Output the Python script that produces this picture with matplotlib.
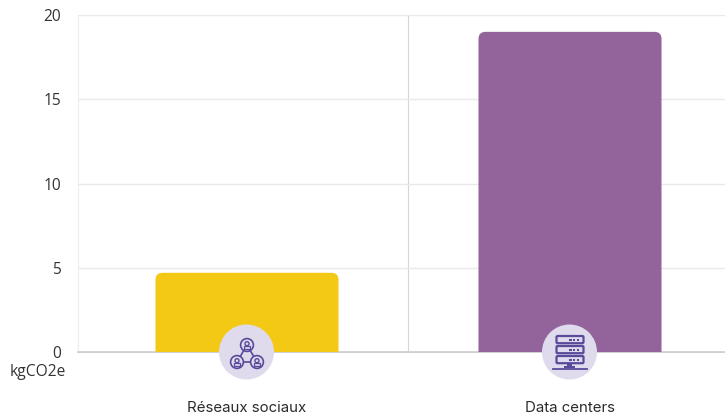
import matplotlib
matplotlib.use("Agg")
import matplotlib.pyplot as plt
from matplotlib.patches import PathPatch, Circle, Rectangle, FancyBboxPatch
from matplotlib.path import Path

categories = ["Réseaux sociaux", "Data centers"]
values = [4.7, 19.0]
bar_colors = ["#F4C916", "#93649B"]
yticks = [0, 5, 10, 15, 20]
unit_label = "kgCO2e"

W, H = 725, 416
L, R, T, B = 78, 725, 15, 352
CX0, CX1 = 247, 570
fig = plt.figure(figsize=(W / 100, H / 100), dpi=100, facecolor="white")
ax = fig.add_axes([L / W, 1 - B / H, (R - L) / W, (B - T) / H])
step = CX1 - CX0
ax.set_xlim(-(CX0 - L) / step, (R - CX0) / step)
ax.set_ylim(0, 20)
ax.set_xticks([])
ax.set_yticks(yticks)
ax.tick_params(axis="y", length=0, pad=12, labelsize=11.2, labelcolor="#333333")
for lab in ax.get_yticklabels():
    lab.set_fontfamily("Open Sans")
for k, s in ax.spines.items():
    s.set_visible(False)
ax.grid(axis="y", color="#e9e9e9", lw=1.0, zorder=0)
ax.plot([-(CX0 - L) / step] * 2, [0, 20], color="#f0f0f0", lw=1.0, zorder=1, clip_on=False)
ax.plot([(408 - CX0) / step] * 2, [0, 20], color="#d6d6d6", lw=0.8, zorder=1)
ax.axhline(0, color="#c8c8c8", lw=1.2, zorder=1, clip_on=False)

bar_w = 183 / step
rx, ry = 7 / step, 7 * 20 / (B - T)
for i, (v, c) in enumerate(zip(values, bar_colors)):
    x0, x1 = i - bar_w / 2, i + bar_w / 2
    verts = [(x0, 0), (x0, v - ry), (x0, v), (x0 + rx, v), (x1 - rx, v), (x1, v), (x1, v - ry), (x1, 0), (x0, 0)]
    codes = [Path.MOVETO, Path.LINETO, Path.CURVE3, Path.CURVE3, Path.LINETO, Path.CURVE3, Path.CURVE3, Path.LINETO, Path.CLOSEPOLY]
    ax.add_patch(PathPatch(Path(verts, codes), fc=c, ec="none", zorder=3))

# Overlay in pixel coordinates for icons and labels
ov = fig.add_axes([0, 0, 1, 1], facecolor="none")
ov.set_xlim(0, W)
ov.set_ylim(H, 0)
ov.axis("off")

ICON = "#5A4A9C"
BG = "#DFDBEC"
ov.add_patch(Circle((246.5, 352), 27.5, fc=BG, ec="none", zorder=4))
ov.add_patch(Circle((569.5, 352), 27.5, fc=BG, ec="none", zorder=4))

# network icon
pts = [(247, 345), (237, 362), (257, 362)]
for a, b in [(0, 1), (1, 2), (2, 0)]:
    ov.plot([pts[a][0], pts[b][0]], [pts[a][1], pts[b][1]], color=ICON, lw=1.2, zorder=5)
for (x, y) in pts:
    ov.add_patch(Circle((x, y), 6.4, fc=BG, ec=ICON, lw=1.2, zorder=6))
    ov.add_patch(Circle((x, y - 1.3), 2.0, fc="none", ec=ICON, lw=1.0, zorder=7))
    ov.add_patch(Rectangle((x - 3.2, y + 1.4), 6.4, 2.4, fc="none", ec=ICON, lw=0.9, zorder=7))

# server icon
for y in [336, 346, 356]:
    ov.add_patch(FancyBboxPatch((556.5, y), 27, 7.2, boxstyle="round,pad=0,rounding_size=1.2",
                                fc=BG, ec=ICON, lw=1.6, zorder=6))
    for dx in [0, 3.7, 7.4]:
        ov.add_patch(Rectangle((569.5 + dx, y + 2.8), 2.2, 1.7, fc=ICON, ec="none", zorder=7))
ov.add_patch(Rectangle((567.5, 363), 4.5, 3, fc=ICON, ec="none", zorder=6))
ov.add_patch(Rectangle((564, 366), 11.5, 2.2, fc=ICON, ec="none", zorder=6))
ov.plot([553, 587], [368.5, 368.5], color=ICON, lw=1.3, zorder=6)

ov.text(37.5, 371.5, unit_label, ha="center", va="center", fontsize=11.2,
        family="Open Sans", color="#333333")
for x, name in zip([247, 570], categories):
    ov.text(x, 408.5, name, ha="center", va="center", fontsize=10.8, family="Inter", color="#2b2b2b")

fig.savefig("out.png", dpi=100)
